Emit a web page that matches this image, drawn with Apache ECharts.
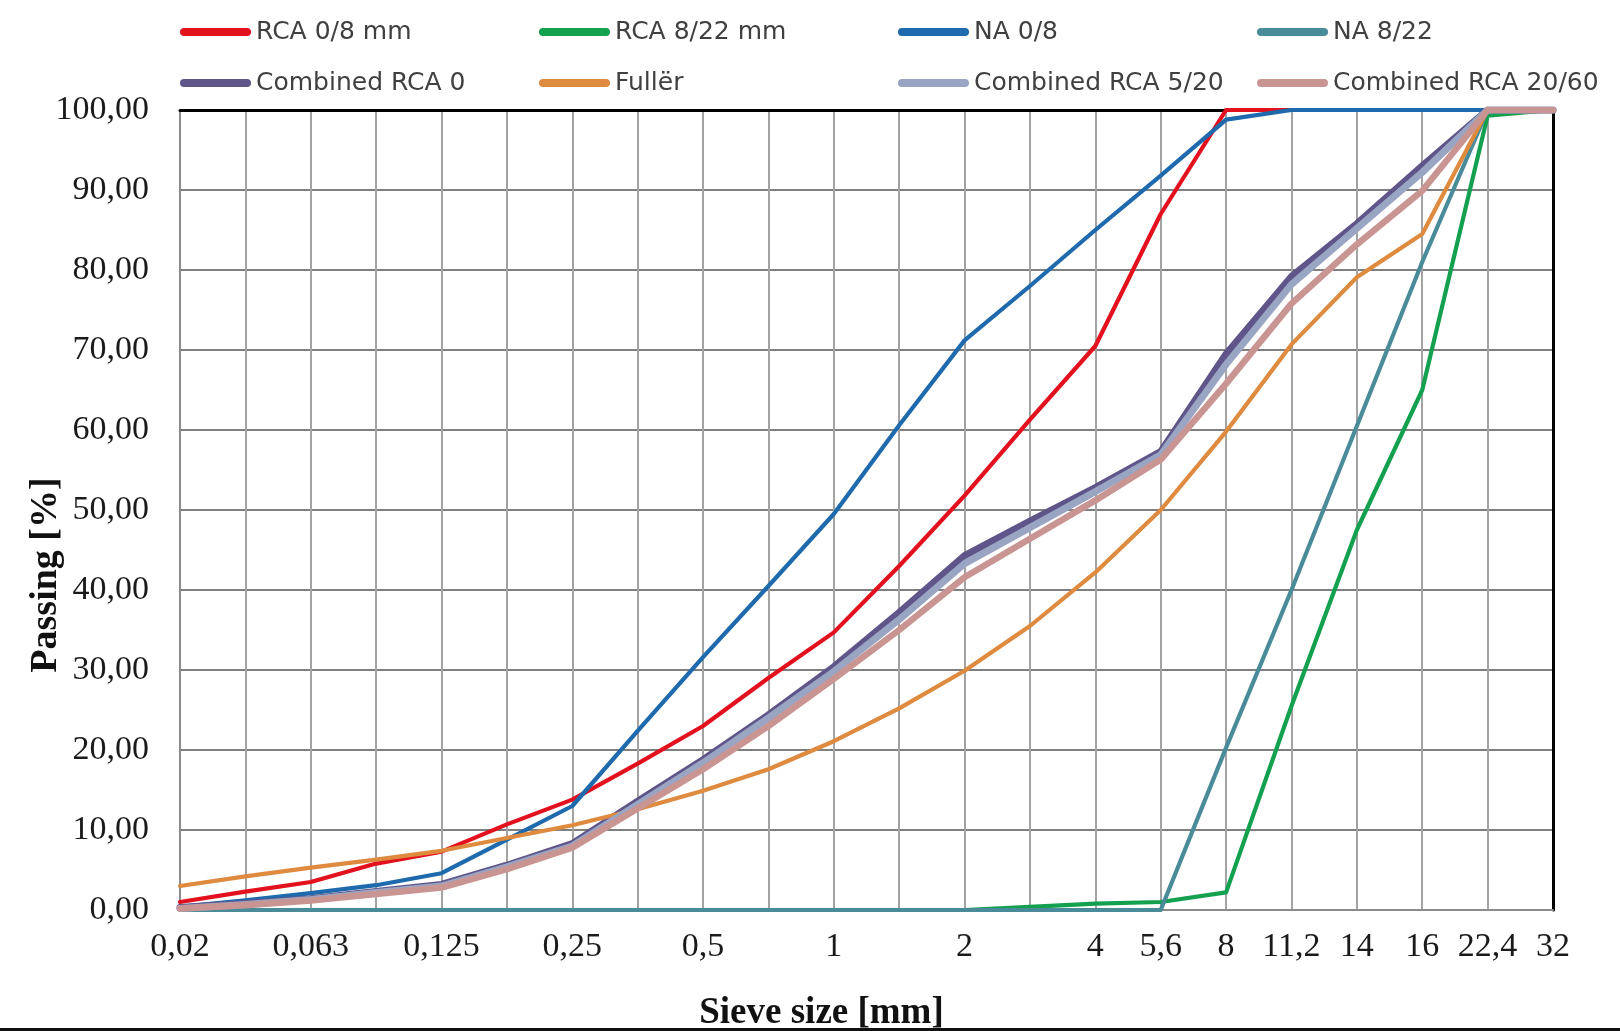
<!DOCTYPE html>
<html>
<head>
<meta charset="utf-8">
<script src="https://cdn.jsdelivr.net/npm/echarts@6/dist/echarts.min.js"></script>
<style>
html,body{margin:0;padding:0;background:#fff;}
#chart{width:1620px;height:1031px;}
</style>
</head>
<body>
<div id="chart"></div>
<script>
// Sieve sizes (category axis, evenly spaced as in the original)
var categories = ['0.02','0.04','0.063','0.09','0.125','0.18','0.25','0.355','0.5','0.71','1','1.4','2','2.8','4','5.6','8','11.2','14','16','22.4','32'];
var xTickLabels = ['0,02','','0,063','','0,125','','0,25','','0,5','','1','','2','','4','5,6','8','11,2','14','16','22,4','32'];
var yTicks = [0,10,20,30,40,50,60,70,80,90,100];

var seriesNames = ['RCA 0/8 mm','RCA 8/22 mm','NA 0/8','NA 8/22','Combined RCA 0','Fullër','Combined RCA 5/20','Combined RCA 20/60'];

var rca08        = [1.0, 2.3, 3.5, 5.8, 7.3, 10.7, 13.8, 18.3, 23.0, 29.0, 34.7, 43.0, 51.8, 61.3, 70.5, 87.0, 100, 100, 100, 100, 100, 100];
var rca822       = [0, 0, 0, 0, 0, 0, 0, 0, 0, 0, 0, 0, 0, 0.4, 0.8, 1.0, 2.2, 25.5, 47.5, 65.0, 99.3, 100];
var na08         = [0.4, 1.2, 2.1, 3.1, 4.6, 8.8, 13.0, 22.4, 31.6, 40.5, 49.5, 60.6, 71.2, 78.0, 85.0, 91.8, 98.8, 100, 100, 100, 100, 100];
var na822        = [0, 0, 0, 0, 0, 0, 0, 0, 0, 0, 0, 0, 0, 0, 0, 0, 20.3, 40.0, 60.5, 81.0, 100, 100];
var combined0    = [0.3, 0.8, 1.4, 2.3, 3.2, 5.6, 8.3, 13.6, 18.8, 24.4, 30.4, 37.2, 44.3, 48.6, 52.8, 57.3, 69.5, 79.2, 85.8, 93.0, 100, 100];
var fuller       = [3.0, 4.2, 5.3, 6.3, 7.4, 9.0, 10.6, 12.6, 14.9, 17.6, 21.1, 25.2, 29.9, 35.5, 42.2, 50.0, 59.8, 70.7, 79.1, 84.5, 100, 100];
var combined520  = [0.2, 0.7, 1.3, 2.2, 3.0, 5.4, 8.0, 13.2, 18.4, 24.0, 29.8, 36.3, 43.3, 47.8, 52.3, 56.9, 68.2, 78.2, 85.2, 92.2, 100, 100];
var combined2060 = [0.2, 0.6, 1.2, 2.0, 2.8, 5.1, 7.8, 12.7, 17.6, 23.0, 28.9, 35.0, 41.6, 46.4, 51.2, 56.3, 65.8, 75.8, 83.2, 89.9, 100, 100];

var seriesData = [rca08, rca822, na08, na822, combined0, fuller, combined520, combined2060];
var seriesColors = ['#e3101e', '#13a04f', '#1e6aad', '#4a8b9a', '#5f5589', '#de8a3f', '#9aa5c4', '#c99592'];
var seriesWidths = [4.2, 4.2, 4.2, 4.2, 7, 4.2, 7, 6.5];

var chart = echarts.init(document.getElementById('chart'), null, {renderer: 'canvas'});

var legendCommon = {
  orient: 'horizontal',
  left: 180,
  padding: 0,
  itemWidth: 71,
  itemHeight: 8,
  itemGap: 23,
  icon: 'path://M4 0H67A4 4 0 0 1 67 8H4A4 4 0 0 1 4 0Z',
  textStyle: {fontFamily: 'DejaVu Sans', fontSize: 25, color: '#404040', width: 260, lineHeight: 30}
};

var series = seriesNames.map(function (name, k) {
  return {
    name: name,
    type: 'line',
    data: seriesData[k],
    symbol: 'none',
    showSymbol: false,
    color: seriesColors[k],
    itemStyle: {color: seriesColors[k]},
    lineStyle: {color: seriesColors[k], width: seriesWidths[k], cap: 'round', join: 'round'},
    emphasis: {disabled: true}
  };
});

var option = {
  animation: false,
  backgroundColor: '#ffffff',
  grid: {left: 180, right: 67, top: 110, bottom: 121, containLabel: false, outerBoundsMode: 'none'},
  legend: [
    Object.assign({}, legendCommon, {top: 17, data: seriesNames.slice(0, 4)}),
    Object.assign({}, legendCommon, {top: 68, data: seriesNames.slice(4)})
  ],
  xAxis: [
    {
      type: 'category',
      data: categories,
      boundaryGap: false,
      axisLine: {show: true, onZero: false, lineStyle: {color: '#8c8c8c', width: 2}},
      axisTick: {show: false},
      axisLabel: {
        interval: 0,
        formatter: function (v, i) { return xTickLabels[i]; },
        fontFamily: 'Liberation Serif', fontSize: 34, color: '#1a1a1a', margin: 20
      },
      splitLine: {show: true, interval: 0, lineStyle: {color: '#a3a3a3', width: 2}},
      name: 'Sieve size [mm]',
      nameLocation: 'middle',
      nameGap: 85,
      nameMoveOverlap: false,
      nameTextStyle: {fontFamily: 'Liberation Serif', fontWeight: 'bold', fontSize: 37, color: '#111', padding: [0, 90, 0, 0]}
    },
    {
      type: 'value', position: 'top', min: 0, max: 1,
      axisLine: {show: true, onZero: false, lineStyle: {color: '#000', width: 3}},
      axisTick: {show: false}, axisLabel: {show: false}, splitLine: {show: false}
    }
  ],
  yAxis: [
    {
      type: 'value', min: 0, max: 100, interval: 10,
      axisLine: {show: true, onZero: false, lineStyle: {color: '#8c8c8c', width: 2}},
      axisTick: {show: false},
      axisLabel: {
        formatter: function (v) { return v.toFixed(2).replace('.', ','); },
        fontFamily: 'Liberation Serif', fontSize: 34, color: '#1a1a1a', margin: 31
      },
      splitLine: {show: true, lineStyle: {color: '#7f7f7f', width: 2}},
      name: 'Passing [%]',
      nameLocation: 'middle',
      nameRotate: 90,
      nameGap: 115,
      nameMoveOverlap: false,
      nameTextStyle: {fontFamily: 'Liberation Serif', fontWeight: 'bold', fontSize: 38, color: '#111', padding: [0, 130, 0, 0]}
    },
    {
      type: 'value', position: 'right', min: 0, max: 1,
      axisLine: {show: true, onZero: false, lineStyle: {color: '#000', width: 3}},
      axisTick: {show: false}, axisLabel: {show: false}, splitLine: {show: false}
    }
  ],
  graphic: [
    {type: 'rect', shape: {x: 0, y: 1028, width: 1620, height: 3}, style: {fill: '#111'}, silent: true}
  ],
  series: series
};

chart.setOption(option);
</script>
</body>
</html>
